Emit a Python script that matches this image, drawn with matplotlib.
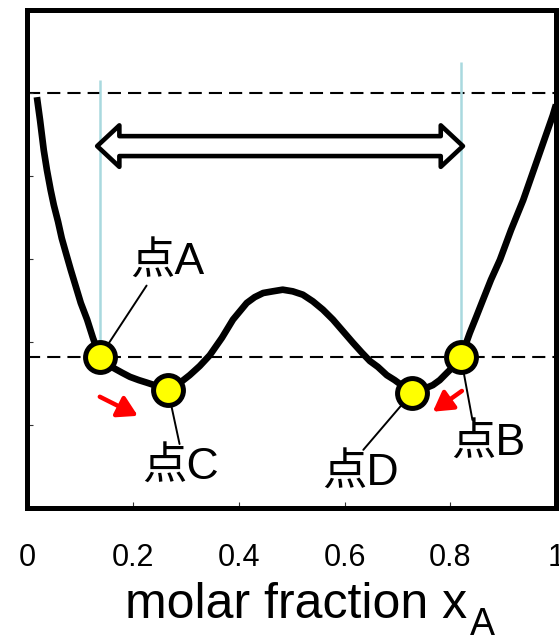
import numpy as np
import matplotlib
matplotlib.use("Agg")
import matplotlib.pyplot as plt
from matplotlib.patches import Polygon

plt.rcParams["font.family"] = ["Liberation Sans", "Noto Sans CJK JP"]

# Gibbs energy curve, x = molar fraction
curve_x = [0.018, 0.024, 0.031, 0.037, 0.044, 0.050, 0.058, 0.065, 0.073, 0.082,
           0.092, 0.101, 0.113, 0.124, 0.137, 0.149, 0.162, 0.179, 0.194, 0.211,
           0.226, 0.245, 0.266, 0.285, 0.307, 0.326, 0.345, 0.368, 0.389, 0.402,
           0.415, 0.430, 0.446, 0.464, 0.483, 0.502, 0.521, 0.540, 0.559, 0.578,
           0.597, 0.616, 0.633, 0.648, 0.663, 0.680, 0.695, 0.710, 0.728, 0.748,
           0.767, 0.780, 0.794, 0.807, 0.820, 0.828, 0.837, 0.849, 0.862, 0.877,
           0.894, 0.915, 0.938, 0.966, 0.994, 1.0]
curve_y = [4.95, 4.67, 4.31, 4.07, 3.83, 3.65, 3.45, 3.25, 3.07, 2.87,
           2.66, 2.47, 2.27, 2.05, 1.82, 1.76, 1.69, 1.63, 1.58, 1.54,
           1.51, 1.47, 1.42, 1.49, 1.60, 1.71, 1.84, 2.05, 2.27, 2.37,
           2.47, 2.54, 2.59, 2.61, 2.63, 2.61, 2.57, 2.49, 2.39, 2.27,
           2.13, 1.99, 1.87, 1.77, 1.70, 1.60, 1.54, 1.47, 1.39, 1.43,
           1.48, 1.54, 1.63, 1.71, 1.82, 1.95, 2.11, 2.30, 2.51, 2.75,
           2.99, 3.35, 3.71, 4.22, 4.73, 4.86]

# marked points A, B, C, D
pt_names = ["点A", "点B", "点C", "点D"]
pt_x = [0.137, 0.820, 0.266, 0.728]
pt_y = [1.82, 1.82, 1.42, 1.39]
label_x = [0.264, 0.871, 0.289, 0.631]
label_y = [2.96, 0.78, 0.49, 0.42]
label_rel = [(0.25, 0), (0.3, 1), (0.5, 1), (0.5, 1)]

upper_level = 5.0
vline_top = [5.16, 5.37]
arrow_y = 4.36

# red arrows (start, end)
red_start = [(0.137, 1.34), (0.822, 1.41)]
red_end = [(0.209, 1.11), (0.767, 1.16)]

xticks = [0, 0.2, 0.4, 0.6, 0.8, 1.0]
xtick_labels = ["0", "0.2", "0.4", "0.6", "0.8", "1"]

fig = plt.figure(figsize=(5.59, 6.36), dpi=100)
ax = fig.add_axes([0.049, 0.2013, 0.9456, 0.783])
ax.set_xlim(0, 1)
ax.set_ylim(0, 6)

# dashed levels
dash = (0, (6.3, 3.4))
ax.axhline(upper_level, color="black", lw=1.5, ls=dash, zorder=1)
ax.axhline(pt_y[0], color="black", lw=1.5, ls=dash, zorder=1)

# light blue verticals at A and B
ax.vlines([pt_x[0], pt_x[1]], [pt_y[0], pt_y[1]], vline_top,
          color="#a9d9df", lw=1.8, zorder=2)

# hollow double arrow between A and B
x0, x1 = pt_x[0] - 0.005, pt_x[1] + 0.004
hl, sh, hh = 0.042, 0.12, 0.25
verts = [(x0, arrow_y), (x0 + hl, arrow_y + hh), (x0 + hl, arrow_y + sh),
         (x1 - hl, arrow_y + sh), (x1 - hl, arrow_y + hh), (x1, arrow_y),
         (x1 - hl, arrow_y - hh), (x1 - hl, arrow_y - sh), (x0 + hl, arrow_y - sh),
         (x0 + hl, arrow_y - hh)]
ax.add_patch(Polygon(verts, closed=True, facecolor="white", edgecolor="black",
                     lw=3.3, joinstyle="round", zorder=3))

# curve
ax.plot(curve_x, curve_y, color="black", lw=4.8, solid_joinstyle="round",
        solid_capstyle="butt", zorder=4)

# labels with leader lines
for name, px, py, lx, ly, rel in zip(pt_names, pt_x, pt_y, label_x, label_y, label_rel):
    ax.annotate(name, xy=(px, py), xytext=(lx, ly), fontsize=32,
                ha="center", va="center", zorder=5,
                arrowprops=dict(arrowstyle="-", lw=1.4, color="black",
                                relpos=rel, shrinkA=0, shrinkB=0))

ax.plot(pt_x, pt_y, "o", ms=21.5, mfc="#ffff00", mec="black", mew=3.6, zorder=6)

# red arrows
for s, e in zip(red_start, red_end):
    ax.annotate("", xy=e, xytext=s, zorder=6,
                arrowprops=dict(arrowstyle="-|>,head_width=0.38,head_length=0.65",
                                color="#ff0000", lw=3.2, mutation_scale=18,
                                shrinkA=0, shrinkB=0))

for sp in ax.spines.values():
    sp.set_linewidth(3.6)
ax.set_xticks(xticks)
ax.set_xticklabels(xtick_labels)
ax.set_yticks(np.arange(0, 7, 1))
ax.set_yticklabels([])
ax.tick_params(axis="both", direction="in", length=4.3, width=0.8, color="#333333")
ax.tick_params(axis="x", labelsize=22, pad=25)
ax.tick_params(axis="y", right=False)
ax.tick_params(axis="x", top=False)

# x label with a lowered subscript
ax.set_xlabel("molar fraction x", fontsize=36, ha="left")
ax.xaxis.set_label_coords(0.184, -0.149)
ax.annotate("A", xy=(1, 0), xycoords=ax.xaxis.label, xytext=(2, 15),
            textcoords="offset points", fontsize=27, ha="left", va="top",
            annotation_clip=False)

fig.savefig("out.png", dpi=100)
